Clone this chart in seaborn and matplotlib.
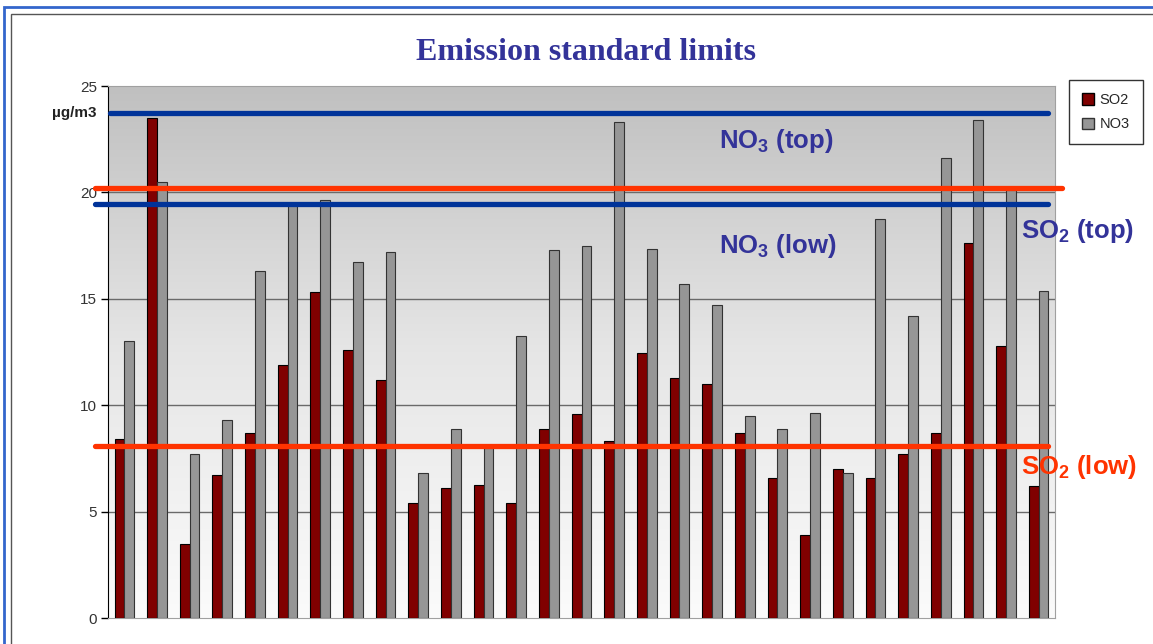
import matplotlib
matplotlib.use("Agg")
import matplotlib.pyplot as plt
from matplotlib.patches import Patch, Rectangle
import numpy as np
import pandas as pd
import seaborn as sns

# valeurs (µg/m3)
so2 = [8.4, 23.5, 3.5, 6.7, 8.7, 11.9, 15.3, 12.6, 11.2, 5.4, 6.1, 6.25, 5.4, 8.9, 9.6,
       8.3, 12.45, 11.3, 11.0, 8.7, 6.6, 3.9, 7.0, 6.6, 7.7, 8.7, 17.6, 12.8, 6.2]
no3 = [13.0, 20.5, 7.7, 9.3, 16.3, 19.5, 19.65, 16.75, 17.2, 6.8, 8.9, 8.0, 13.25, 17.3, 17.5,
       23.3, 17.35, 15.7, 14.7, 9.5, 8.9, 9.65, 6.8, 18.75, 14.2, 21.6, 23.4, 20.1, 15.35]
series = ["SO2", "NO3"]
sites = [str(i + 1) for i in range(len(so2))]

# limites
no3_top, no3_low = 23.73, 19.45
so2_top, so2_low = 20.2, 8.08

W, H = 1153, 644
def fx(px):
    return px / W
def fy(py):
    return 1 - py / H

df = pd.DataFrame({
    "site": sites * 2,
    "value": so2 + no3,
    "pollutant": ["SO2"] * len(so2) + ["NO3"] * len(no3),
})

sns.set_style("white")
plt.rcParams["font.family"] = ["Liberation Sans", "DejaVu Sans"]
plt.rcParams["mathtext.fontset"] = "custom"
plt.rcParams["mathtext.rm"] = "Liberation Sans:bold"
plt.rcParams["mathtext.it"] = "Liberation Sans:bold"
plt.rcParams["mathtext.bf"] = "Liberation Sans:bold"

fig = plt.figure(figsize=(W / 100, H / 100), dpi=100)
ax = fig.add_axes([fx(108), fy(618), (1055 - 108) / W, (618 - 86) / H])

colors = {"SO2": "#800000", "NO3": "#969696"}
sns.barplot(data=df, x="site", y="value", hue="pollutant", hue_order=series,
            palette=colors, width=0.6, saturation=1, legend=False, ax=ax, zorder=3)
n = len(so2)
for i, p in enumerate(ax.patches):
    p.set_edgecolor("#000000" if i < n else "#333333")
    p.set_linewidth(0.8)

ax.set_xlim(-0.5, n - 0.5)
ax.set_ylim(0, 25)

# fond dégradé gris -> blanc
grad = np.linspace(0, 1, 256).reshape(-1, 1)
cmap = matplotlib.colors.LinearSegmentedColormap.from_list("bg", ["#fbfbfb", "#e6e6e6", "#c0c0c0"])
ax.imshow(grad, extent=[-0.5, n - 0.5, 0, 25], origin="lower", aspect="auto",
          cmap=cmap, zorder=0)

for v in [5, 10, 15, 20]:
    ax.axhline(v, color="#6a6a6a", lw=1.0, zorder=1)

ax.set_yticks([0, 5, 10, 15, 20, 25])
ax.set_yticklabels(["0", "5", "10", "15", "20", "25"], fontsize=11, color="#333333")
ax.tick_params(axis="y", direction="out", length=5, width=1, color="#000000", left=True, pad=3)
ax.set_xticks([])
ax.set_xlabel("")
ax.set_ylabel("")
ax.spines["left"].set_color("#000000")
for s in ["top", "right", "bottom"]:
    ax.spines[s].set_color("#a0a0a0")

# lignes de limites
tr = ax.get_yaxis_transform()
ax.plot([0.002, 0.9926], [no3_top] * 2, color="#003399", lw=3.8, transform=tr, clip_on=False, zorder=5)
ax.plot([-0.0137, 0.9926], [no3_low] * 2, color="#003399", lw=3.8, transform=tr, clip_on=False, zorder=5)
ax.plot([-0.0137, 1.0074], [so2_top] * 2, color="#ff3300", lw=3.8, transform=tr, clip_on=False, zorder=6)
ax.plot([-0.0137, 0.9926], [so2_low] * 2, color="#ff3300", lw=3.8, transform=tr, clip_on=False, zorder=6)

# textes
fig.text(fx(586), fy(52), "Emission standard limits", ha="center", va="center",
         family="Liberation Serif", weight="bold", fontsize=23, color="#333399")
fig.text(fx(97), fy(113), "µg/m3", ha="right", va="center", weight="bold", fontsize=11, color="#222222")
lab = dict(ha="left", va="center", weight="bold", fontsize=18.5)
fig.text(fx(719), fy(141), r"NO$_3$ (top)", color="#333399", **lab)
fig.text(fx(719), fy(246), r"NO$_3$ (low)", color="#333399", **lab)
fig.text(fx(1021), fy(231), r"SO$_2$ (top)", color="#333399", **lab)
fig.text(fx(1021), fy(467), r"SO$_2$ (low)", color="#ff3300", **lab)

handles = [Patch(facecolor=colors[s], edgecolor="#000000" if s == "SO2" else "#333333", label=s)
           for s in series]
fig.legend(handles=handles, loc="upper left", bbox_to_anchor=(fx(1069), fy(80)),
           fontsize=10.5, frameon=True, fancybox=False, edgecolor="#000000",
           handlelength=0.8, handleheight=0.8, handletextpad=0.4, borderpad=0.9,
           labelspacing=0.7, borderaxespad=0)

# cadres autour du graphique
fig.patches.append(Rectangle((fx(4), fy(700)), 2, fy(7) - fy(700), transform=fig.transFigure,
                             fill=False, edgecolor="#3366cc", lw=2))
fig.patches.append(Rectangle((fx(11), fy(700)), 2, fy(14) - fy(700), transform=fig.transFigure,
                             fill=False, edgecolor="#555555", lw=1))

fig.savefig("out.png", dpi=100)
